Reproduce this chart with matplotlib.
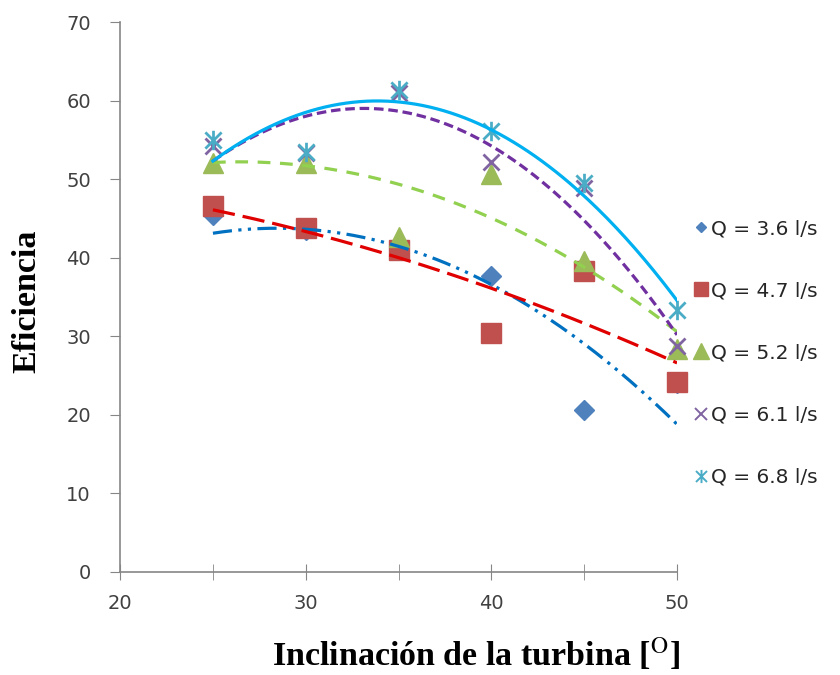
import numpy as np
import matplotlib.pyplot as plt
from matplotlib.path import Path

# inclinacion de la turbina (grados)
angulo = [25, 30, 35, 40, 45, 50]

# eficiencia medida para cada caudal
ef_36 = [45.4, 43.5, 41.0, 37.7, 20.6, 24.0]
ef_47 = [46.6, 43.8, 41.0, 30.4, 38.3, 24.2]
ef_52 = [52.0, 52.0, 42.6, 50.6, 39.6, 28.4]
ef_61 = [54.2, 53.3, 61.0, 52.2, 48.9, 28.7]
ef_68 = [55.0, 53.5, 61.3, 56.1, 49.5, 33.3]

tend_36 = [43.0, 43.8, 41.4, 36.8, 28.6, 19.0]
tend_47 = [46.1, 43.3, 40.0, 36.3, 31.4, 26.7]
tend_52 = [52.0, 51.6, 50.0, 45.0, 38.0, 31.0]
tend_61 = [52.4, 57.9, 58.8, 53.5, 45.7, 29.8]
tend_68 = [52.5, 58.2, 59.7, 56.5, 48.0, 34.4]

etiquetas = ['Q = 3.6 l/s', 'Q = 4.7 l/s', 'Q = 5.2 l/s', 'Q = 6.1 l/s', 'Q = 6.8 l/s']

# asterisco estilo excel: x + barra vertical
estrella = Path([(-0.5, -0.5), (0.5, 0.5), (-0.5, 0.5), (0.5, -0.5), (0, -0.6), (0, 0.6)],
                [Path.MOVETO, Path.LINETO, Path.MOVETO, Path.LINETO, Path.MOVETO, Path.LINETO])

datos = [ef_36, ef_47, ef_52, ef_61, ef_68]
tendencias = [tend_36, tend_47, tend_52, tend_61, tend_68]
# (marcador, tamano en grafico, tamano en leyenda, color)
marcadores = [('D', 10, 5.5, '#4F81BD'), ('s', 14, 10, '#C0504D'), ('^', 15, 11, '#9BBB59'),
              ('x', 12, 8.5, '#8064A2'), (estrella, 14, 9.5, '#4BACC6')]
lineas = [('#0070C0', (0, (6, 2, 1, 2, 1, 2))), ('#E00000', (0, (7, 2.5))),
          ('#92D050', (0, (4, 3))), ('#7030A0', (0, (3, 1.5))), ('#00B0F0', '-')]

plt.rcParams['mathtext.fontset'] = 'stix'

fig = plt.figure(figsize=(8.4, 6.75), dpi=100)
ax = fig.add_axes([0.143, 0.1526, 0.663, 0.8148])


def lineal(m):
    return m == 'x' or isinstance(m, Path)


for y, (m, ms, _, c) in zip(datos, marcadores):
    ax.plot(angulo, y, linestyle='none', marker=m, markersize=ms, color=c, clip_on=False,
            markeredgecolor=c, markeredgewidth=2 if lineal(m) else 1, zorder=2)

xs = np.linspace(25, 50, 200)
for t, (lc, ls) in zip(tendencias, lineas):
    coef = np.polyfit(angulo, t, 2)
    ax.plot(xs, np.polyval(coef, xs), color=lc, linestyle=ls, linewidth=2.3, zorder=3)

handles = []
for (m, _, ms_leg, c), lab in zip(marcadores, etiquetas):
    h, = ax.plot([], [], linestyle='none', marker=m, markersize=ms_leg, color=c,
                 markeredgecolor=c, markeredgewidth=1.4 if lineal(m) else 1, label=lab)
    handles.append(h)

ax.set_xlim(20, 50)
ax.set_ylim(0, 70)
ax.set_xticks([20, 30, 40, 50])
ax.set_xticks([25, 35, 45], minor=True)
ax.set_yticks(range(0, 71, 10))
for s in ['top', 'right']:
    ax.spines[s].set_visible(False)
for s in ['left', 'bottom']:
    ax.spines[s].set_color('#868686')
    ax.spines[s].set_linewidth(1.2)
ax.tick_params(axis='x', which='both', direction='inout', length=12, color='#868686',
               labelsize=14, labelcolor='#404040', pad=10)
ax.tick_params(axis='y', direction='out', length=7, color='#868686',
               labelsize=14, labelcolor='#404040', pad=14)

fig.text(27 / 840, 0.553, 'Eficiencia', family='Liberation Serif', fontweight='bold',
         fontsize=24.5, rotation=90, ha='center', va='center')
fig.text(0.567, 0.013, r'Inclinación de la turbina [$^{\mathrm{O}}$]', family='Liberation Serif',
         fontweight='bold', fontsize=24.5, ha='center', va='baseline')

fig.legend(handles=handles, loc='upper left', bbox_to_anchor=(0.806, 0.702), frameon=False,
           fontsize=14.5, handlelength=0.6, handletextpad=0.2, labelspacing=2.14,
           labelcolor='#262626')

plt.savefig('out.png', dpi=100)
